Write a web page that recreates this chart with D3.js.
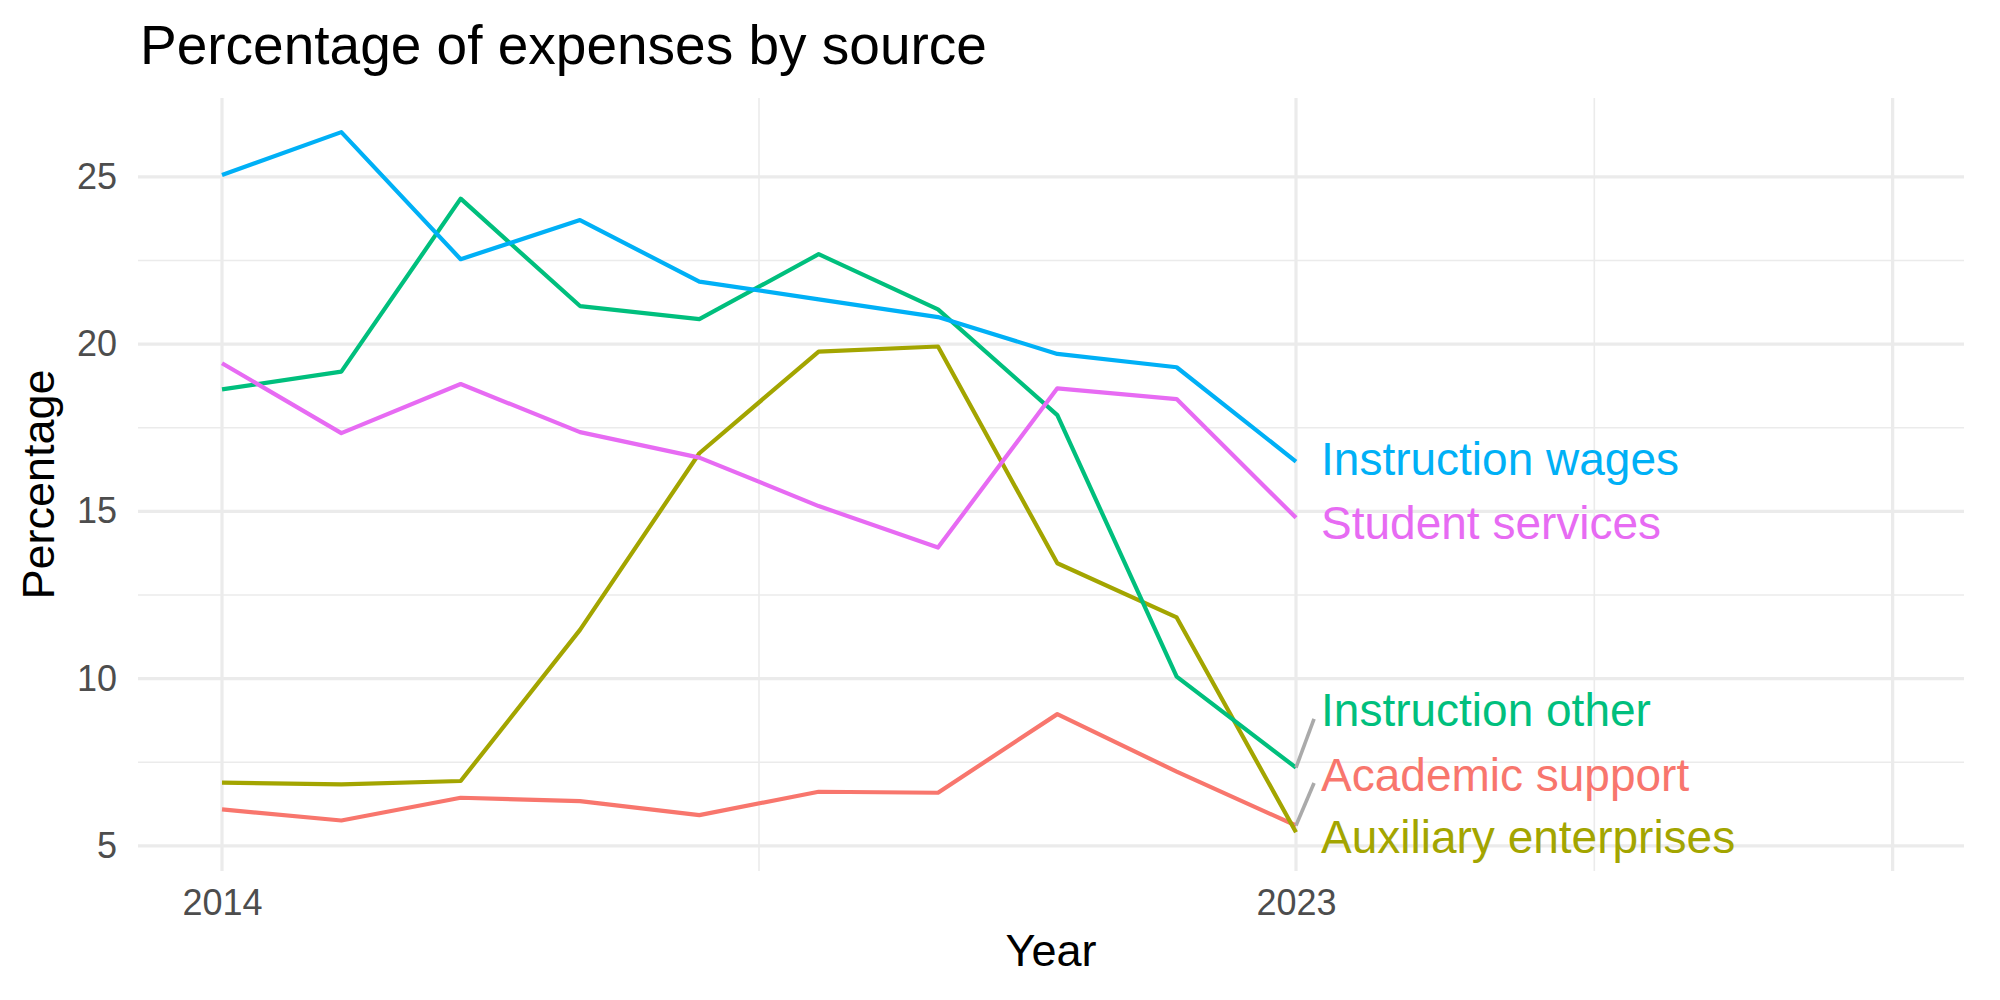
<!DOCTYPE html>
<html lang="en">
<head>
<meta charset="UTF-8">
<title>Percentage of expenses by source</title>
<style>
  body { margin: 0; background: #fff; }
  text { font-family: "Liberation Sans", Arial, sans-serif; }
</style>
</head>
<body>
<svg width="2000" height="1000"></svg>
<script src="https://cdn.jsdelivr.net/npm/d3@7"></script>
<script>

    // data
    var years = [2014, 2015, 2016, 2017, 2018, 2019, 2020, 2021, 2022, 2023];
    var sources = ["Academic support", "Auxiliary enterprises", "Instruction other", "Instruction wages", "Student services"];
    var academicSupport = [6.09, 5.76, 6.44, 6.34, 5.92, 6.62, 6.59, 8.94, 7.22, 5.61];
    var auxiliaryEnterprises = [6.89, 6.84, 6.94, 11.46, 16.74, 19.78, 19.93, 13.45, 11.83, 5.41];
    var instructionOther = [18.65, 19.18, 24.35, 21.14, 20.75, 22.69, 21.04, 17.88, 10.06, 7.34];
    var instructionWages = [25.06, 26.34, 22.54, 23.71, 21.87, 21.34, 20.81, 19.71, 19.31, 16.49];
    var studentServices = [19.43, 17.34, 18.81, 17.37, 16.61, 15.16, 13.92, 18.68, 18.36, 14.81];
    // where the repelled labels ended up (data units)
    var labelX = 2023.21;
    var labelY = [7.15, 5.27, 9.07, 16.57, 14.66];

    var yTicks = [5, 10, 15, 20, 25];
    var yMinor = [7.5, 12.5, 17.5, 22.5];
    var xMajor = [2014, 2023, 2028];
    var xMinor = [2018.5, 2025.5];
    var xLabels = [2014, 2023];

    var colors = ["#F8766D", "#A3A500", "#00BF7D", "#00B0F6", "#E76BF3"];
    var seriesValues = [academicSupport, auxiliaryEnterprises, instructionOther, instructionWages, studentServices];

    var series = sources.map(function(s, i) {
        return {
            name: s,
            color: colors[i],
            labelY: labelY[i],
            values: years.map(function(y, j) { return {year: y, value: seriesValues[i][j]}; })
        };
    });

    var panel = {left: 138, right: 1964, top: 98, bottom: 871};

    var svg = d3.select("svg");
    svg.append("rect").attr("width", 2000).attr("height", 1000).attr("fill", "#fff");

    // ggplot-ish expanded ranges
    var x = d3.scaleLinear().domain([2013.296, 2028.598]).range([panel.left, panel.right]);
    var y = d3.scaleLinear().domain([4.25, 27.36]).range([panel.bottom, panel.top]);

    var grid = svg.append("g");
    grid.selectAll(".yminor").data(yMinor).enter().append("line")
        .attr("x1", panel.left).attr("x2", panel.right)
        .attr("y1", function(d) { return y(d); }).attr("y2", function(d) { return y(d); })
        .attr("stroke", "#EBEBEB").attr("stroke-width", 1.6);
    grid.selectAll(".xminor").data(xMinor).enter().append("line")
        .attr("y1", panel.top).attr("y2", panel.bottom)
        .attr("x1", function(d) { return x(d); }).attr("x2", function(d) { return x(d); })
        .attr("stroke", "#EBEBEB").attr("stroke-width", 1.6);
    grid.selectAll(".ymajor").data(yTicks).enter().append("line")
        .attr("x1", panel.left).attr("x2", panel.right)
        .attr("y1", function(d) { return y(d); }).attr("y2", function(d) { return y(d); })
        .attr("stroke", "#EBEBEB").attr("stroke-width", 3.2);
    grid.selectAll(".xmajor").data(xMajor).enter().append("line")
        .attr("y1", panel.top).attr("y2", panel.bottom)
        .attr("x1", function(d) { return x(d); }).attr("x2", function(d) { return x(d); })
        .attr("stroke", "#EBEBEB").attr("stroke-width", 3.2);

    // axes (text only, like theme_minimal)
    var yAxis = svg.append("g").attr("transform", "translate(" + (panel.left - 10) + ",0)")
        .call(d3.axisLeft(y).tickValues(yTicks).tickSize(0).tickPadding(11));
    var xAxis = svg.append("g").attr("transform", "translate(0," + (panel.bottom) + ")")
        .call(d3.axisBottom(x).tickValues(xLabels).tickFormat(d3.format("d")).tickSize(0).tickPadding(18));
    [yAxis, xAxis].forEach(function(a) {
        a.select(".domain").remove();
        a.selectAll("text").attr("fill", "#4D4D4D").style("font-size", "36px")
            .style("font-family", "'Liberation Sans', Arial, sans-serif");
    });

    var line = d3.line()
        .x(function(d) { return x(d.year); })
        .y(function(d) { return y(d.value); });

    svg.selectAll(".series").data(series).enter().append("path")
        .attr("d", function(d) { return line(d.values); })
        .attr("fill", "none")
        .attr("stroke", function(d) { return d.color; })
        .attr("stroke-width", 4.2)
        .attr("stroke-linejoin", "round");

    // repel segments where the label moved away from its point
    var last = function(d) { return d.values[d.values.length - 1]; };
    svg.selectAll(".seg").data(series.filter(function(d) { return Math.abs(d.labelY - last(d).value) > 0.8; }))
        .enter().append("line")
        .attr("x1", function(d) { return x(last(d).year); })
        .attr("y1", function(d) { return y(last(d).value); })
        .attr("x2", function(d) { return x(labelX) - 7; })
        .attr("y2", function(d) { return y(d.labelY) + 9; })
        .attr("stroke", "#AAAAAA").attr("stroke-width", 3.6);

    svg.selectAll(".lab").data(series).enter().append("text")
        .attr("x", x(labelX))
        .attr("y", function(d) { return y(d.labelY); })
        .attr("dy", "0.36em")
        .attr("fill", function(d) { return d.color; })
        .style("font-size", "46px")
        .text(function(d) { return d.name; });

    svg.append("text").attr("x", 140).attr("y", 64)
        .style("font-size", "55px").attr("fill", "#000")
        .text("Percentage of expenses by source");

    svg.append("text").attr("x", (panel.left + panel.right) / 2).attr("y", 966)
        .attr("text-anchor", "middle").style("font-size", "45px").attr("fill", "#000")
        .text("Year");

    svg.append("text").attr("transform", "translate(54," + ((panel.top + panel.bottom) / 2) + ") rotate(-90)")
        .attr("text-anchor", "middle").style("font-size", "45px").attr("fill", "#000")
        .text("Percentage");

</script>
</body>
</html>
